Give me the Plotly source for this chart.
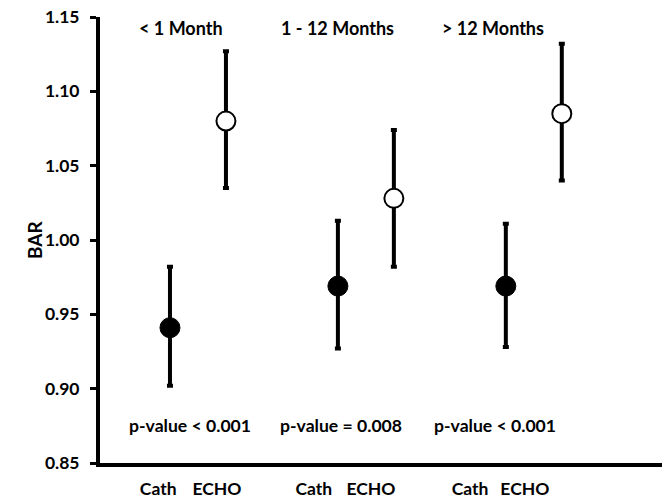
import plotly.graph_objects as go

# ---- data ----
groups = ["< 1 Month", "1 - 12 Months", "> 12 Months"]
methods = ["Cath", "ECHO"]
p_values = ["p-value < 0.001", "p-value = 0.008", "p-value < 0.001"]

cath_mean = [0.941, 0.969, 0.969]
cath_upper = [0.982, 1.013, 1.011]
cath_lower = [0.902, 0.927, 0.928]

echo_mean = [1.080, 1.028, 1.085]
echo_upper = [1.127, 1.074, 1.132]
echo_lower = [1.035, 0.982, 1.040]

y_ticks = [0.85, 0.90, 0.95, 1.00, 1.05, 1.10, 1.15]

# ---- layout positions ----
cath_x = [0, 3, 6]
echo_x = [1, 4, 7]
label_x = [-0.21, 0.84, 2.57, 3.59, 5.36, 6.34]
group_label_x = [0.2, 3.0, 5.77]
pval_x = [0.36, 3.05, 5.8]

FONT = "Lato"

def err(mean, up, lo):
    return dict(type="data", symmetric=False,
                array=[u - m for u, m in zip(up, mean)],
                arrayminus=[m - l for m, l in zip(mean, lo)],
                color="black", thickness=4, width=3)

fig = go.Figure()
fig.add_trace(go.Scatter(
    x=cath_x, y=cath_mean, mode="markers",
    marker=dict(size=20, color="black", line=dict(color="black", width=1)),
    error_y=err(cath_mean, cath_upper, cath_lower), showlegend=False))
fig.add_trace(go.Scatter(
    x=echo_x, y=echo_mean, mode="markers",
    marker=dict(size=19, color="white", line=dict(color="black", width=2)),
    error_y=err(echo_mean, echo_upper, echo_lower), showlegend=False))

annotations = []
for gx, g in zip(group_label_x, groups):
    annotations.append(dict(x=gx, y=1.15, xref="x", yref="y", text=f"<b>{g}</b>",
                            showarrow=False, yanchor="middle", yshift=-11,
                            font=dict(family=FONT, size=18, color="black")))
for px, p in zip(pval_x, p_values):
    annotations.append(dict(x=px, y=0.85, xref="x", yref="y", text=f"<b>{p}</b>",
                            showarrow=False, yanchor="middle", yshift=38,
                            font=dict(family=FONT, size=17.6, color="black")))
annotations.append(dict(x=0, y=0.5, xref="paper", yref="paper", text="<b>BAR</b>",
                        showarrow=False, textangle=-90, xanchor="center", xshift=-66,
                        font=dict(family=FONT, size=19, color="black")))

fig.update_layout(
    width=662, height=500,
    margin=dict(l=100, r=0, t=17, b=37),
    plot_bgcolor="white", paper_bgcolor="white",
    annotations=annotations,
    xaxis=dict(range=[-1.25, 8.79], showgrid=False, zeroline=False,
               showline=True, linecolor="black", linewidth=4,
               tickvals=label_x, ticktext=[f"<b>{m}</b>" for m in methods * 3],
               ticks="", ticklabelstandoff=7, automargin=False,
               tickfont=dict(family=FONT, size=17.5, color="black")),
    yaxis=dict(range=[0.85, 1.15], showgrid=False, zeroline=False,
               showline=True, linecolor="black", linewidth=4,
               tickvals=y_ticks, ticktext=[f"<b>{v:.2f}</b>" for v in y_ticks],
               ticks="outside", ticklen=6, tickwidth=3, tickcolor="black",
               ticklabelstandoff=7, automargin=False,
               tickfont=dict(family=FONT, size=17.5, color="black")),
)

fig.write_html("out.html", config={"displayModeBar": False},
               post_script="document.body.style.margin='0';document.body.style.overflow='hidden';")
